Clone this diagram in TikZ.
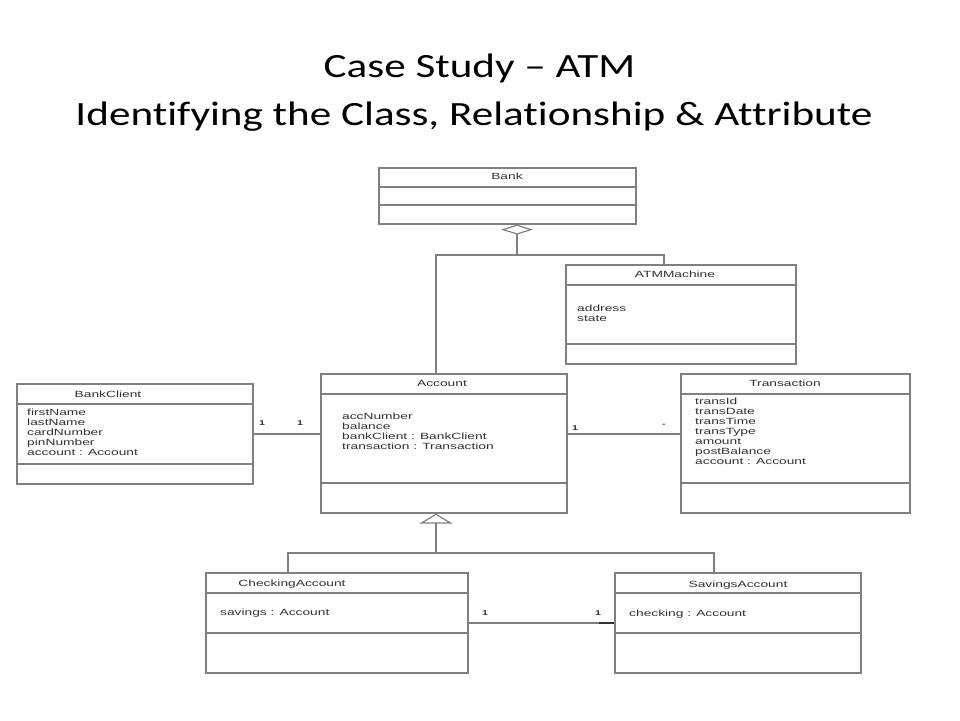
\documentclass[tikz,border=0pt]{standalone}
\usepackage{fontspec}
\setmainfont{Carlito}
\newfontfamily\headfont[FakeStretch=1.27,Ligatures=NoCommon]{Carlito}
\newfontfamily\umlfont[FakeStretch=1.53]{Liberation Sans}
\usepackage{xcolor}
\definecolor{Col1}{RGB}{128,128,128}
\definecolor{Col2}{RGB}{50,50,50}
\usetikzlibrary{arrows.meta}
\tikzstyle{Class}=[draw=Col1,line width=1.2pt,inner sep=0pt]
\tikzstyle{Edge}=[draw=Col1,line width=1.2pt]
\tikzstyle{Agg}=[Edge,-{Diamond[open,length=10pt,width=32pt]}]
\tikzstyle{Gen}=[Edge,-{Triangle[open,length=10pt,width=33pt]}]
\tikzstyle{NodeTitle}=[font=\umlfont\fontsize{9}{10}\selectfont,text=Col2,inner sep=0pt]
\tikzstyle{NodeAttr}=[NodeTitle,anchor=north west,align=left]
\tikzstyle{NodeMult}=[font=\umlfont\bfseries\fontsize{7}{8}\selectfont,text=Col2,inner sep=0pt]
\tikzstyle{Heading}=[font=\headfont\fontsize{34}{40}\selectfont,anchor=base,inner sep=0pt]

\begin{document}
\begin{tikzpicture}[x=1pt,y=-1pt]
        \useasboundingbox[fill=white](0,0)rectangle(960,720);
        \node[Heading](t1)at(479.5,77){Case Study – ATM};
        \node[Heading](t2)at(474,125){Identifying the Class, Relationship \& Attribute};
        % classes
        \node[Class,minimum width=257,minimum height=56](Bank)at(507.5,196){};
        \node[Class,minimum width=230,minimum height=99](ATMMachine)at(681,314.5){};
        \node[Class,minimum width=236,minimum height=100](BankClient)at(135,434){};
        \node[Class,minimum width=246,minimum height=139](Account)at(444,443.5){};
        \node[Class,minimum width=229,minimum height=139](Transaction)at(795.5,443.5){};
        \node[Class,minimum width=262,minimum height=100](Checking)at(337,623){};
        \node[Class,minimum width=246,minimum height=100](Savings)at(738,623){};
        % compartments
        \draw[Edge](Bank.west|-0,187)--(Bank.east|-0,187);
        \draw[Edge](Bank.west|-0,205)--(Bank.east|-0,205);
        \draw[Edge](ATMMachine.west|-0,285)--(ATMMachine.east|-0,285);
        \draw[Edge](ATMMachine.west|-0,344)--(ATMMachine.east|-0,344);
        \draw[Edge](BankClient.west|-0,404)--(BankClient.east|-0,404);
        \draw[Edge](BankClient.west|-0,464)--(BankClient.east|-0,464);
        \draw[Edge](Account.west|-0,394)--(Account.east|-0,394);
        \draw[Edge](Account.west|-0,483)--(Account.east|-0,483);
        \draw[Edge](Transaction.west|-0,394)--(Transaction.east|-0,394);
        \draw[Edge](Transaction.west|-0,483)--(Transaction.east|-0,483);
        \draw[Edge](Checking.west|-0,593)--(Checking.east|-0,593);
        \draw[Edge](Checking.west|-0,633)--(Checking.east|-0,633);
        \draw[Edge](Savings.west|-0,593)--(Savings.east|-0,593);
        \draw[Edge](Savings.west|-0,633)--(Savings.east|-0,633);
        % names and attributes
        \node[NodeTitle](BankT)at(507,176){Bank};
        \node[NodeTitle](ATMMachineT)at(675,274){ATMMachine};
        \node[NodeAttr](ATMMachineA)at(577,305){address\\state};
        \node[NodeTitle](BankClientT)at(108,394){BankClient};
        \node[NodeAttr](BankClientA)at(27,409)
            {firstName\\lastName\\cardNumber\\pinNumber\\account : Account};
        \node[NodeTitle](AccountT)at(442,383){Account};
        \node[NodeAttr](AccountA)at(342,413)
            {accNumber\\balance\\bankClient : BankClient\\transaction : Transaction};
        \node[NodeTitle](TransactionT)at(785,383){Transaction};
        \node[NodeAttr](TransactionA)at(695,398)
            {transId\\transDate\\transTime\\transType\\amount\\postBalance\\account : Account};
        \node[NodeTitle](CheckingT)at(292,584){CheckingAccount};
        \node[NodeAttr](CheckingA)at(220,609){savings : Account};
        \node[NodeTitle](SavingsT)at(738,585){SavingsAccount};
        \node[NodeAttr](SavingsA)at(629,610){checking : Account};
        % aggregation
        \coordinate(j)at(517,255);
        \coordinate(a)at(436,255);
        \coordinate(b)at(664,255);
        \draw[Agg](j)--(j|-Bank.south);
        \draw[Edge](a|-Account.north)--(a)--(b)--(b|-ATMMachine.north);
        % generalization
        \coordinate(g)at(436,553);
        \coordinate(c)at(288,553);
        \coordinate(s)at(714,553);
        \draw[Gen](g)--(g|-Account.south);
        \draw[Edge](c|-Checking.north)--(c)--(s)--(s|-Savings.north);
        % associations
        \draw[Edge](BankClient.east)--(BankClient.east-|Account.west);
        \draw[Edge](Account.east|-BankClient.east)--(Transaction.west|-BankClient.east);
        \draw[Edge](Checking.east)--(Savings.west);
        \draw[Edge,draw=Col2,line width=1.6pt](Savings.west)--++(-15,0);
        \node[NodeMult](m1)at(262,423){1};
        \node[NodeMult](m2)at(300,423){1};
        \node[NodeMult](m3)at(575,428){1};
        \node[NodeMult](m4)at(664,425){-};
        \node[NodeMult](m5)at(485,613){1};
        \node[NodeMult](m6)at(598,613){1};
    \end{tikzpicture}
\end{document}
